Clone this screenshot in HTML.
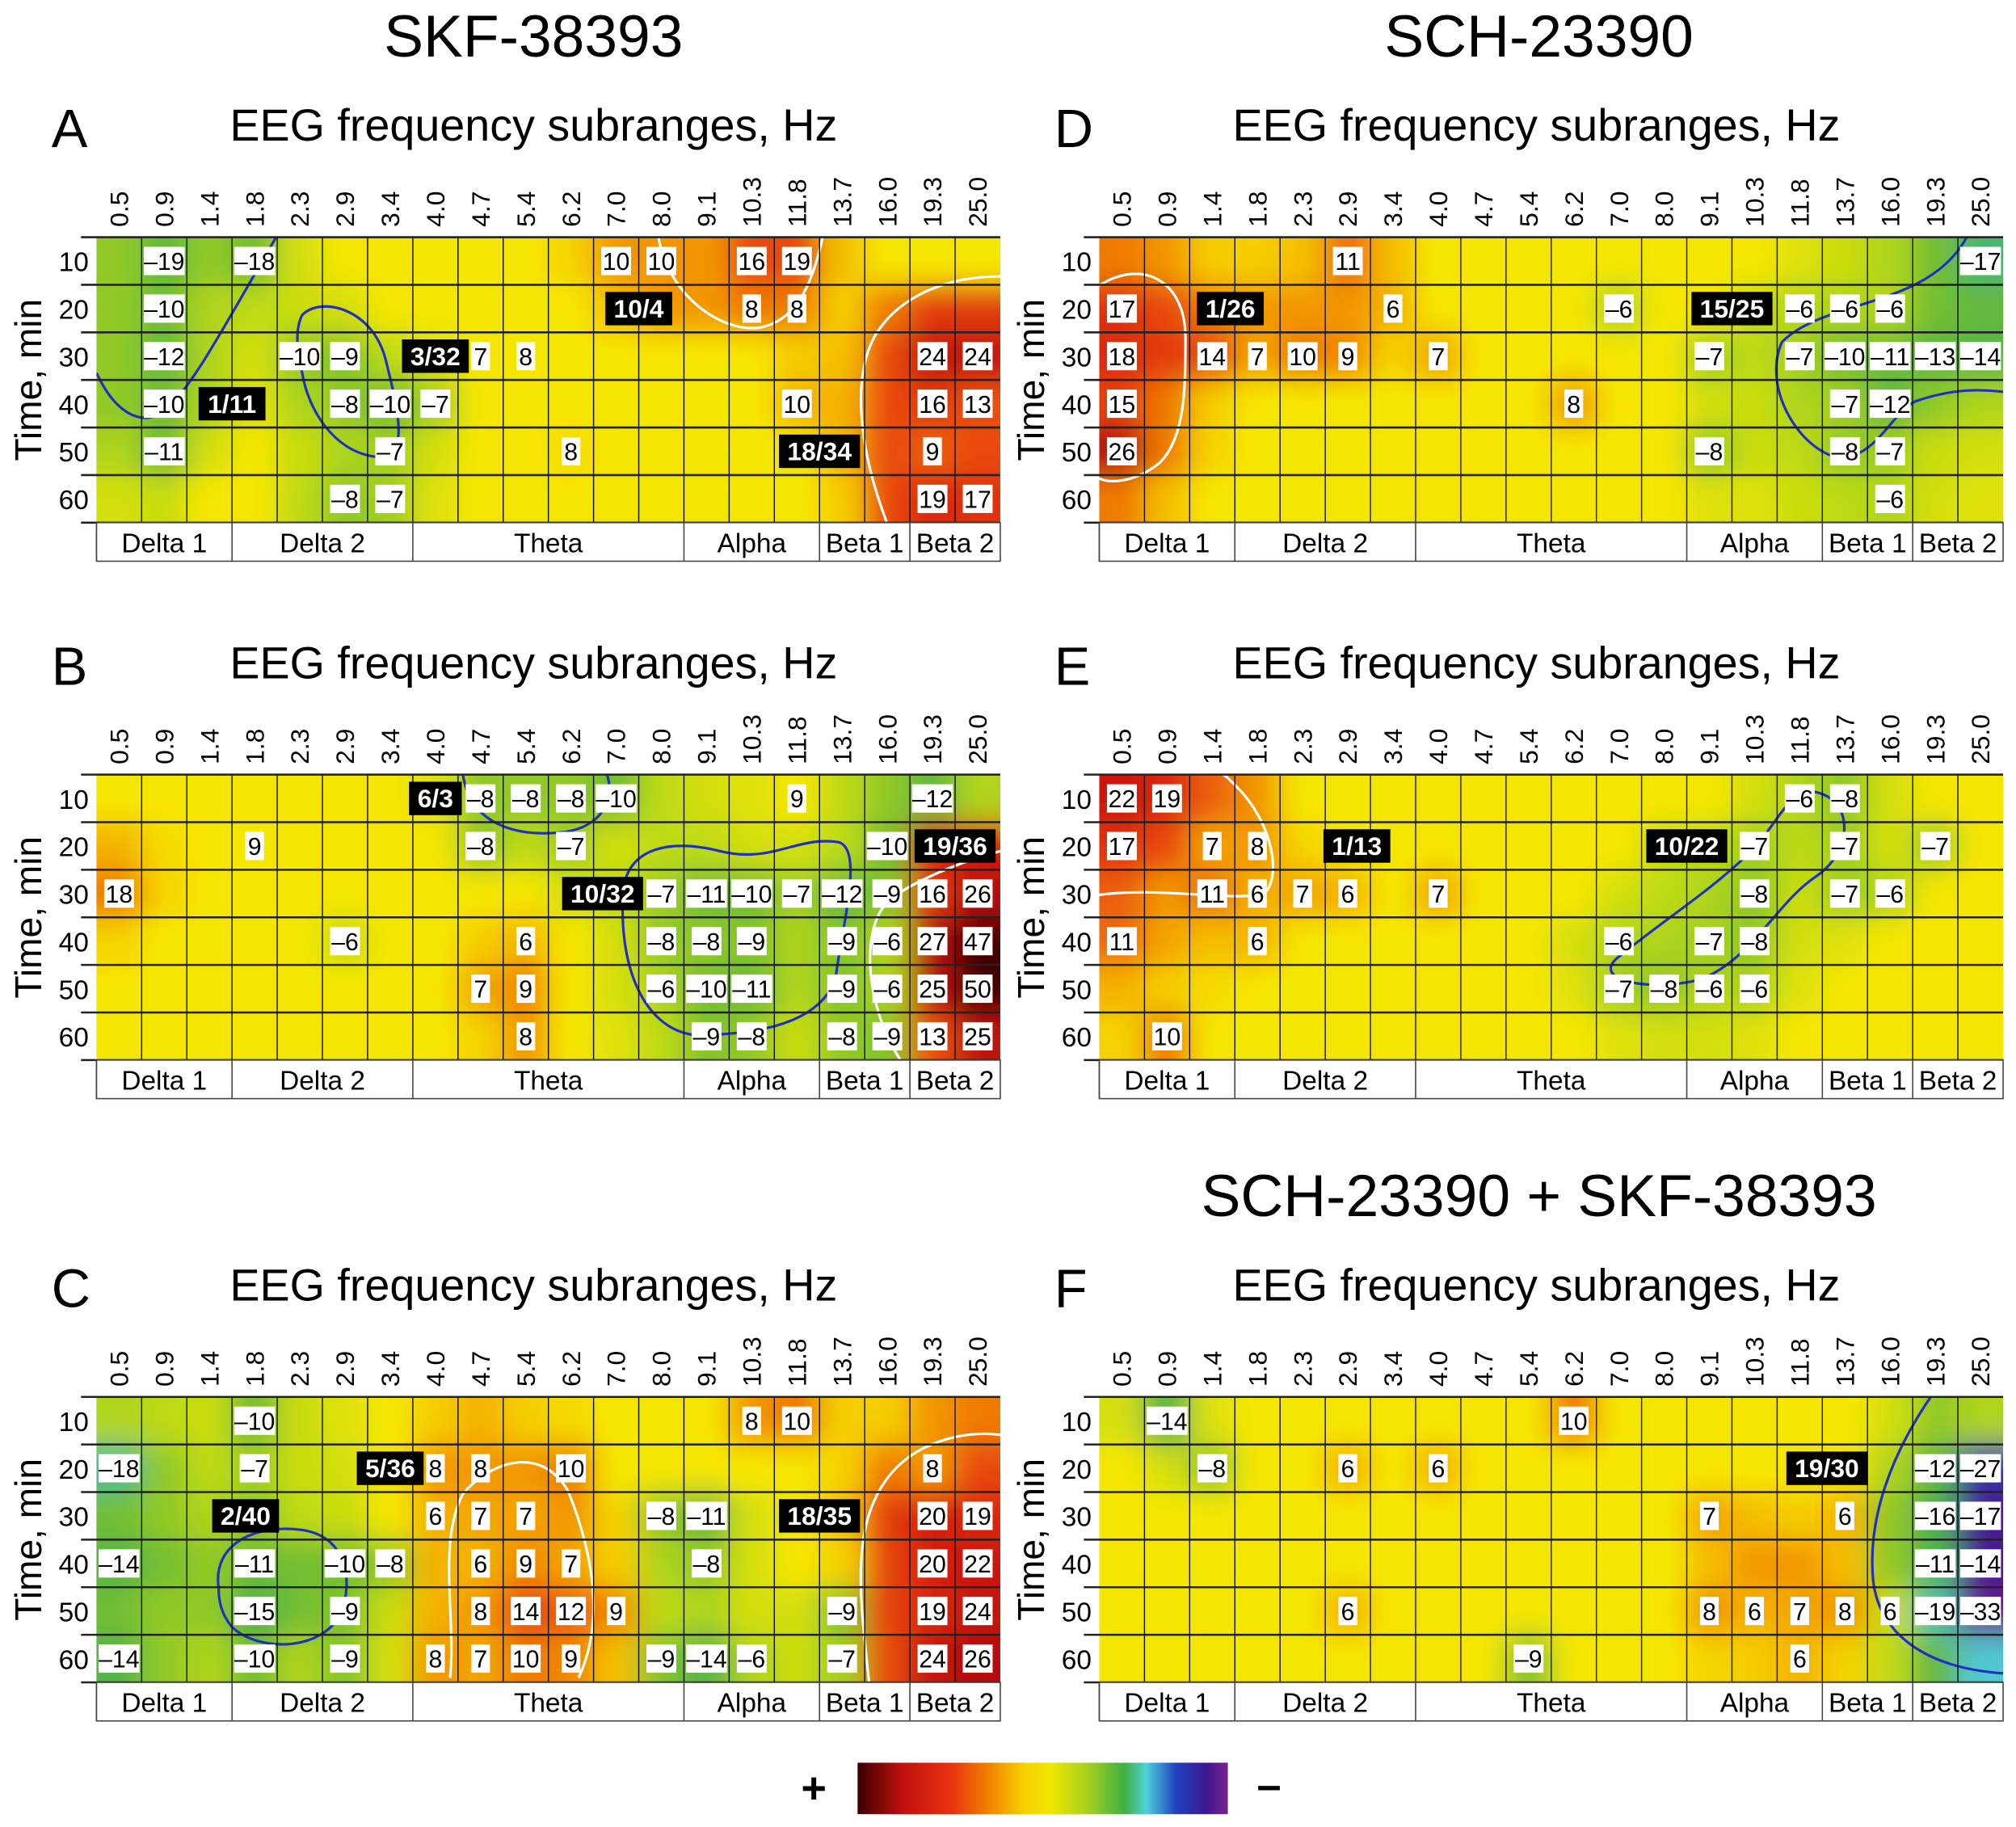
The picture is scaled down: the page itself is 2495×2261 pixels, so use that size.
<!DOCTYPE html>
<html><head><meta charset="utf-8">
<style>
html,body{margin:0;padding:0;background:#fff;}
svg{display:block;}
text{font-family:"Liberation Sans",sans-serif;}
.n{font-family:"Liberation Sans Narrow","Liberation Sans",sans-serif;}
</style></head>
<body>
<svg id="fig" width="2495" height="2261" viewBox="0 0 1568 1421" xmlns="http://www.w3.org/2000/svg">
<defs>
<filter id="blur" x="-5%" y="-5%" width="110%" height="110%"><feGaussianBlur stdDeviation="11"/></filter>
<linearGradient id="cbar" x1="0" x2="1" y1="0" y2="0">
<stop offset="0" stop-color="#3a0000"/><stop offset="0.12" stop-color="#c01010"/><stop offset="0.25" stop-color="#e83010"/>
<stop offset="0.35" stop-color="#f08000"/><stop offset="0.45" stop-color="#f5d000"/><stop offset="0.52" stop-color="#f2e600"/>
<stop offset="0.62" stop-color="#a8d020"/><stop offset="0.72" stop-color="#40b040"/><stop offset="0.78" stop-color="#50d0d8"/>
<stop offset="0.86" stop-color="#2040c0"/><stop offset="0.94" stop-color="#3a1890"/><stop offset="1" stop-color="#7a2090"/>
</linearGradient>
</defs>
<text x="415" y="44" font-size="46" text-anchor="middle">SKF-38393</text>
<text x="1197" y="44" font-size="46" text-anchor="middle">SCH-23390</text>
<text x="1197" y="946" font-size="46" text-anchor="middle">SCH-23390 + SKF-38393</text>
<g>
<rect x="667" y="1371" width="288" height="40" fill="url(#cbar)"/>
<text x="633" y="1402" font-size="34" font-weight="bold" text-anchor="middle">+</text>
<text x="987" y="1400" font-size="34" font-weight="bold" text-anchor="middle">–</text>
</g>
</svg>
<script>
const freqLabels=["0.5","0.9","1.4","1.8","2.3","2.9","3.4","4.0","4.7","5.4","6.2","7.0","8.0","9.1","10.3","11.8","13.7","16.0","19.3","25.0"];
const timeLabels=["10","20","30","40","50","60"];
const bands=[["Delta 1",0,3],["Delta 2",3,7],["Theta",7,13],["Alpha",13,16],["Beta 1",16,18],["Beta 2",18,20]];

const fieldA=[
[-8,-12,-8,-10,-3,0,0,0,0,0,3,8,8,8,14,14,5,0,0,0],
[-8,-10,-6,-5,-4,-3,0,0,0,0,0,5,8,8,10,10,4,10,16,16],
[-8,-12,-6,-3,-8,-9,-5,-2,0,0,0,0,0,0,0,4,5,14,24,24],
[-8,-10,-6,-2,-6,-8,-10,-7,0,0,0,0,0,0,0,6,6,14,16,13],
[-6,-11,-3,0,-4,-6,-7,-3,0,0,2,0,0,0,0,0,6,14,12,14],
[-3,-4,0,0,-5,-8,-7,-2,0,0,0,0,0,0,0,0,4,14,19,17]];
const labelsA=[[0,1,-19],[0,3,-18],[0,11,10],[0,12,10],[0,14,16],[0,15,19],[1,1,-10],[1,14,8],[1,15,8],
[2,1,-12],[2,4,-10],[2,5,-9],[2,8,7],[2,9,8],[2,18,24],[2,19,24],[3,1,-10],[3,5,-8],[3,6,-10],[3,7,-7],[3,15,10],[3,18,16],[3,19,13],
[4,1,-11],[4,6,-7],[4,10,8],[4,18,9],[5,5,-8],[5,6,-7],[5,18,19],[5,19,17]];
const notesA=[[1,11.5,"10/4"],[2,7,"3/32"],[3,2.5,"1/11"],[4,15.5,"18/34"]];

const fieldB=[
[0,0,0,0,0,0,0,-2,-8,-8,-8,-10,-5,-3,-2,0,-5,-8,-12,-6],
[6,2,0,0,0,0,0,0,-8,-5,-7,-3,-5,-5,-3,-3,-5,-10,20,20],
[10,3,0,0,0,0,0,0,0,0,-3,-5,-7,-11,-10,-7,-12,-9,16,26],
[3,0,0,0,0,-4,0,0,4,6,0,-3,-8,-8,-9,-6,-9,-6,27,47],
[0,0,0,0,0,0,0,0,7,9,0,-3,-6,-10,-11,-6,-9,-6,25,50],
[0,0,0,0,0,0,0,0,3,8,0,-2,-5,-9,-8,-4,-8,-9,13,25]];
const labelsB=[[0,8,-8],[0,9,-8],[0,10,-8],[0,11,-10],[0,15,9],[0,18,-12],[1,3,9],[1,8,-8],[1,10,-7],[1,17,-10],
[2,0,18],[2,12,-7],[2,13,-11],[2,14,-10],[2,15,-7],[2,16,-12],[2,17,-9],[2,18,16],[2,19,26],
[3,5,-6],[3,9,6],[3,12,-8],[3,13,-8],[3,14,-9],[3,16,-9],[3,17,-6],[3,18,27],[3,19,47],
[4,8,7],[4,9,9],[4,12,-6],[4,13,-10],[4,14,-11],[4,16,-9],[4,17,-6],[4,18,25],[4,19,50],
[5,9,8],[5,13,-9],[5,14,-8],[5,16,-8],[5,17,-9],[5,18,13],[5,19,25]];
const notesB=[[0,7,"6/3"],[1,18.5,"19/36"],[2,10.7,"10/32"]];

const fieldC=[
[-6,-5,-4,-10,-4,-2,0,4,6,4,2,0,0,0,8,10,4,4,8,10],
[-18,-8,-5,-7,-4,-3,0,8,8,8,10,0,0,0,0,0,3,10,8,14],
[-10,-8,-6,-8,-5,-4,0,6,7,7,8,3,-8,-11,-3,0,5,16,20,19],
[-14,-10,-8,-11,-10,-10,-8,6,6,9,7,4,-6,-8,-3,0,3,15,20,22],
[-10,-8,-8,-15,-10,-9,-4,6,8,14,12,9,-5,-6,-3,-3,-9,15,19,24],
[-14,-8,-6,-10,-6,-9,-3,8,7,10,9,5,-9,-14,-6,-4,-7,14,24,26]];
const labelsC=[[0,3,-10],[0,14,8],[0,15,10],[1,0,-18],[1,3,-7],[1,7,8],[1,8,8],[1,10,10],[1,18,8],
[2,7,6],[2,8,7],[2,9,7],[2,12,-8],[2,13,-11],[2,18,20],[2,19,19],
[3,0,-14],[3,3,-11],[3,5,-10],[3,6,-8],[3,8,6],[3,9,9],[3,10,7],[3,13,-8],[3,18,20],[3,19,22],
[4,3,-15],[4,5,-9],[4,8,8],[4,9,14],[4,10,12],[4,11,9],[4,16,-9],[4,18,19],[4,19,24],
[5,0,-14],[5,3,-10],[5,5,-9],[5,7,8],[5,8,7],[5,9,10],[5,10,9],[5,12,-9],[5,13,-14],[5,14,-6],[5,16,-7],[5,18,24],[5,19,26]];
const notesC=[[1,6,"5/36"],[2,2.8,"2/40"],[2,15.5,"18/35"]];

const fieldD=[
[10,8,4,4,5,11,5,0,0,0,0,0,0,0,0,-2,-4,-6,-10,-17],
[17,14,10,8,8,8,6,0,0,0,0,-6,0,0,-4,-6,-6,-6,-10,-12],
[18,16,14,7,10,9,3,7,0,0,0,0,0,-7,-5,-7,-10,-11,-13,-14],
[15,10,4,0,0,0,0,0,0,0,8,0,0,-3,-4,-6,-7,-12,-8,-6],
[26,10,3,0,0,0,0,0,0,0,0,0,0,-8,-4,-5,-8,-7,-4,-3],
[10,5,0,0,0,0,0,0,0,0,0,0,0,-2,-2,-4,-5,-6,-3,-2]];
const labelsD=[[0,5,11],[0,19,-17],[1,0,17],[1,6,6],[1,11,-6],[1,15,-6],[1,16,-6],[1,17,-6],
[2,0,18],[2,2,14],[2,3,7],[2,4,10],[2,5,9],[2,7,7],[2,13,-7],[2,15,-7],[2,16,-10],[2,17,-11],[2,18,-13],[2,19,-14],
[3,0,15],[3,10,8],[3,16,-7],[3,17,-12],[4,0,26],[4,13,-8],[4,16,-8],[4,17,-7],[5,17,-6]];
const notesD=[[1,2.4,"1/26"],[1,13.5,"15/25"]];

const fieldE=[
[22,19,12,8,0,0,0,0,0,0,0,0,0,0,-3,-6,-8,-3,0,0],
[17,14,7,8,3,0,0,0,0,0,0,0,-4,-5,-7,-5,-7,-3,-7,0],
[12,8,11,6,7,6,0,7,0,0,0,-3,-5,-6,-8,-4,-7,-6,0,0],
[11,7,5,6,0,0,0,0,0,0,-3,-6,-6,-7,-8,-3,-2,0,0,0],
[6,4,2,0,0,0,0,0,0,0,-2,-7,-8,-6,-6,-2,0,0,0,0],
[3,10,0,0,0,0,0,0,0,0,0,-2,-3,-3,-2,0,0,0,0,0]];
const labelsE=[[0,0,22],[0,1,19],[0,15,-6],[0,16,-8],[1,0,17],[1,2,7],[1,3,8],[1,14,-7],[1,16,-7],[1,18,-7],
[2,2,11],[2,3,6],[2,4,7],[2,5,6],[2,7,7],[2,14,-8],[2,16,-7],[2,17,-6],
[3,0,11],[3,3,6],[3,11,-6],[3,13,-7],[3,14,-8],[4,11,-7],[4,12,-8],[4,13,-6],[4,14,-6],[5,1,10]];
const notesE=[[1,5.2,"1/13"],[1,12.5,"10/22"]];

const fieldF=[
[-3,-14,-2,0,0,0,0,0,0,0,10,0,0,0,0,0,0,-3,-8,-6],
[0,-3,-8,0,0,6,0,6,0,0,0,0,0,0,0,0,0,-6,-12,-27],
[0,0,0,0,0,0,0,0,0,0,0,0,0,7,5,4,6,-8,-16,-30],
[0,0,0,0,0,0,0,0,0,0,0,0,0,5,8,8,5,-8,-14,-30],
[0,0,0,0,0,6,0,0,0,0,0,0,0,8,6,7,8,-4,-19,-33],
[0,0,0,0,0,0,0,0,0,-9,0,0,0,3,4,6,3,-5,-12,-20]];
const labelsF=[[0,1,-14],[0,10,10],[1,2,-8],[1,5,6],[1,7,6],[1,18,-12],[1,19,-27],[2,13,7],[2,16,6],[2,18,-16],[2,19,-17],
[3,18,-11],[3,19,-14],[4,5,6],[4,13,8],[4,14,6],[4,15,7],[4,16,8],[4,17,6],[4,18,-19],[4,19,-33],[5,9,-9],[5,15,6]];
const notesF=[[1,15.6,"19/30"]];

const NS="http://www.w3.org/2000/svg";
const svg=document.getElementById('fig');
const CW=35.15, RH=37, GW=CW*20, GH=RH*6;
const stops=[[-33,[100,30,140]],[-28,[50,30,150]],[-24,[60,120,210]],[-20,[80,200,210]],[-16,[70,175,80]],[-10,[115,190,50]],[-5,[190,218,20]],[0,[245,230,0]],[4,[245,205,0]],[8,[242,150,0]],[13,[235,80,15]],[20,[215,30,15]],[28,[170,10,10]],[45,[70,0,0]],[60,[50,0,0]]];
function col(v){
  if(v<=stops[0][0])return 'rgb('+stops[0][1]+')';
  for(let i=1;i<stops.length;i++){if(v<=stops[i][0]){const a=stops[i-1],b=stops[i],t=(v-a[0])/(b[0]-a[0]);
    return 'rgb('+a[1].map((c,k)=>Math.round(c+(b[1][k]-c)*t)).join(',')+')';}}
  return 'rgb('+stops[stops.length-1][1]+')';
}
function el(tag,attrs,parent){const e=document.createElementNS(NS,tag);for(const k in attrs)e.setAttribute(k,attrs[k]);(parent||svg).appendChild(e);return e;}
function xOf(gx,c){return gx+CW*c;}
function yOf(gy,r){return gy+RH*r;}

function panel(id,letter,gx,gy,field,labels,notes,curves){
  const g=el('g',{});
  
  
  const lt=el('text',{x:gx-35,y:gy-70,'font-size':42},g); lt.textContent=letter;
  
  
  const tt=el('text',{x:gx+340,y:gy-75,'font-size':35,'text-anchor':'middle'},g); tt.textContent='EEG frequency subranges, Hz';
  
  
  const yt=el('text',{x:0,y:0,'font-size':29,'text-anchor':'middle',transform:'translate('+(gx-43)+','+(gy+GH/2)+') rotate(-90)'},g); yt.textContent='Time, min';
  
  
  const cid='clip'+id;
  const cp=el('clipPath',{id:cid},g); el('rect',{x:gx,y:gy,width:GW,height:GH},cp);
  const hg=el('g',{'clip-path':'url(#'+cid+')'},g);
  el('rect',{x:gx,y:gy,width:GW,height:GH,fill:'#f5e600'},hg);
  const bg=el('g',{filter:'url(#blur)'},hg);
  
  
  field.forEach((row,r)=>row.forEach((v,c)=>{
    let x=xOf(gx,c),y=yOf(gy,r),w=CW,h=RH;
    if(c===0){x-=40;w+=40;} if(c===19)w+=40; if(r===0){y-=40;h+=40;} if(r===5)h+=40;
    const cell=el('rect',{x:x,y:y,width:w+0.5,height:h+0.5,fill:col(v)},bg);
    
    
  }));
  (curves||[]).forEach(cv=>{const p=el('path',{d:cv[0],fill:'none',stroke:cv[1],'stroke-width':2},hg);
    
    });
  for(let c=1;c<20;c++)el('line',{x1:xOf(gx,c),x2:xOf(gx,c),y1:gy,y2:gy+GH,stroke:'#111','stroke-width':0.9},g);
  for(let r=0;r<=6;r++)el('line',{x1:gx-12,x2:gx+GW,y1:yOf(gy,r),y2:yOf(gy,r),stroke:'#222','stroke-width':1.6},g);
  el('rect',{x:gx,y:gy+GH,width:GW,height:30,fill:'#fff',stroke:'#444','stroke-width':1},g);
  bands.forEach(b=>{
    el('line',{x1:xOf(gx,b[1]),x2:xOf(gx,b[1]),y1:gy+GH,y2:gy+GH+30,stroke:'#444','stroke-width':1},g);
    const t=el('text',{x:(xOf(gx,b[1])+xOf(gx,b[2]))/2,y:gy+GH+23,'font-size':21,'text-anchor':'middle'},g);t.textContent=b[0];
    
    
  });
  freqLabels.forEach((f,c)=>{
    const cx=xOf(gx,c+0.5);
    const t=el('text',{x:0,y:0,'font-size':20,'text-anchor':'start',transform:'translate('+(cx+7)+','+(gy-8)+') rotate(-90)'},g);t.textContent=f;
    
    
  });
  timeLabels.forEach((l,r)=>{
    const t=el('text',{x:gx-6,y:yOf(gy,r+0.5)+8,'font-size':21,'text-anchor':'end'},g);t.textContent=l;
    
    
  });
  labels.forEach(L=>{
    const s=String(L[2]).replace('-','–');const cx=xOf(gx,L[1]+0.5),cy=yOf(gy,L[0]+0.5);
    const w=s.length*8.6+6;
    const b=el('rect',{x:cx-w/2,y:cy-11,width:w,height:22,fill:'#fff'},g);
    
    
    const t=el('text',{x:cx,y:cy+7,'font-size':19,'text-anchor':'middle','class':'n'},g);t.textContent=s;
    
    
  });
  notes.forEach(N=>{
    const cx=xOf(gx,N[1]+0.5),cy=yOf(gy,N[0]+0.5);const w=N[2].length*11+8;
    const b=el('rect',{x:cx-w/2,y:cy-13,width:w,height:26,fill:'#000'},g);
    
    
    const t=el('text',{x:cx,y:cy+7,'font-size':20,'font-weight':'bold','text-anchor':'middle',fill:'#fff','class':'n'},g);t.textContent=N[2];
    
    
  });
}
panel('a','A',75,184.5,fieldA,labelsA,notesA,[
 ['M75,290 C90,322 110,332 128,320 C150,300 172,258 215,184','#2030c0'],
 ['M235,245 C250,230 290,240 300,280 C310,320 320,360 290,355 C260,350 240,320 235,290 C230,270 230,255 235,245Z','#2030c0'],
 ['M512,184 C520,230 560,258 590,255 C620,250 632,220 640,184','#fff'],
 ['M690,407 C672,360 660,300 680,262 C700,228 740,215 778,215','#fff']]);
panel('b','B',75,602.5,fieldB,labelsB,notesB,[
 ['M360,602 C365,640 400,652 440,647 C470,642 478,620 472,602','#2030c0'],
 ['M485,690 C480,750 500,800 540,805 C600,805 640,792 650,760 C655,720 672,660 652,655 C620,650 600,672 560,662 C520,652 490,660 485,690Z','#2030c0'],
 ['M700,824 C672,780 670,722 690,702 C702,690 740,672 778,662','#fff']]);
panel('c','C',75,1086.5,fieldC,labelsC,notesC,[
 ['M170,1235 C165,1200 200,1185 235,1190 C270,1195 275,1230 265,1255 C250,1285 200,1285 180,1265 C172,1255 170,1245 170,1235Z','#2030c0'],
 ['M350,1305 C355,1260 340,1200 360,1162 C380,1138 420,1122 442,1160 C462,1210 470,1262 450,1305','#fff'],
 ['M676,1309 C670,1250 660,1190 690,1150 C710,1122 750,1112 778,1116','#fff']]);
panel('d','D',855,184.5,fieldD,labelsD,notesD,[
 ['M855,222 C890,200 922,220 922,262 C922,302 922,340 902,360 C882,376 862,376 855,372','#fff'],
 ['M1530,184 C1500,240 1420,232 1386,266 C1370,302 1400,350 1430,356 C1460,356 1470,322 1490,312 C1520,302 1540,302 1568,306','#2030c0']]);
panel('e','E',855,602.5,fieldE,labelsE,notesE,[
 ['M855,696 C900,690 950,700 982,696 C998,684 990,640 962,612 C956,606 952,602 950,602','#fff'],
 ['M1262,742 C1232,762 1282,772 1322,762 C1362,747 1382,702 1412,682 C1442,662 1442,622 1412,616 C1392,612 1382,642 1362,662 C1332,692 1292,717 1262,742Z','#2030c0']]);
panel('f','F',855,1086.5,fieldF,labelsF,notesF,[
 ['M1502,1086 C1472,1130 1452,1180 1457,1230 C1462,1272 1500,1300 1568,1302','#2030c0']]);
</script>
</body></html>
